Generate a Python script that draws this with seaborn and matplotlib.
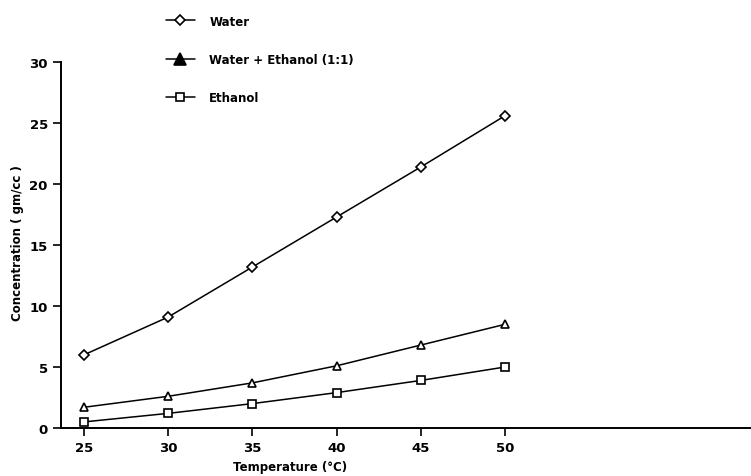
import matplotlib
matplotlib.use("Agg")
import matplotlib.pyplot as plt
import seaborn as sns
import pandas as pd

temperature = [25, 30, 35, 40, 45, 50]
water = [6.0, 9.1, 13.2, 17.3, 21.4, 25.6]
water_ethanol = [1.7, 2.6, 3.7, 5.1, 6.8, 8.5]
ethanol = [0.5, 1.2, 2.0, 2.9, 3.9, 5.0]
series_names = ["Water", "Water + Ethanol (1:1)", "Ethanol"]
y_ticks = [0, 5, 10, 15, 20, 25, 30]

sns.set_theme(style="ticks")
plt.rcParams["font.family"] = ["DejaVu Sans"]
plt.rcParams["text.color"] = "black"

df = pd.DataFrame({
    "Temperature": temperature * 3,
    "Concentration": water + water_ethanol + ethanol,
    "Series": [series_names[0]] * 6 + [series_names[1]] * 6 + [series_names[2]] * 6,
})

fig = plt.figure(figsize=(7.51, 4.77), dpi=100)
ax = fig.add_axes([61 / 751, 48 / 477, 690 / 751, 366 / 477])

markers = {series_names[0]: "D", series_names[1]: "^", series_names[2]: "s"}
sizes = {series_names[0]: 5, series_names[1]: 6, series_names[2]: 6}
for name in series_names:
    sub = df[df["Series"] == name]
    sns.lineplot(data=sub, x="Temperature", y="Concentration", ax=ax,
                 color="black", linewidth=1.1, marker=markers[name],
                 markersize=sizes[name], markerfacecolor="white",
                 markeredgecolor="black", markeredgewidth=1.2, label=name)

ax.set_xlim(23.63, 64.6)
ax.set_ylim(0, 30)
ax.set_xticks(temperature)
ax.set_yticks(y_ticks)
for s in ["top", "right"]:
    ax.spines[s].set_visible(False)
for s in ["left", "bottom"]:
    ax.spines[s].set_linewidth(1.4)
    ax.spines[s].set_color("black")
ax.tick_params(axis="both", length=6, width=1.2, colors="black", labelsize=9.5)
for lab in ax.get_xticklabels() + ax.get_yticklabels():
    lab.set_fontweight("bold")

ax.set_xlabel("Temperature (°C)", fontsize=8.5, fontweight="bold", color="black")
ax.set_ylabel("Concentration ( gm/cc )", fontsize=8.5, fontweight="bold", color="black")
ax.xaxis.set_label_coords((290 - 61) / 690, (429 - 468) / 366)
ax.yaxis.set_label_coords((17 - 61) / 690, (429 - 243) / 366)
ax.xaxis.label.set_va("center")
ax.yaxis.label.set_va("center")

leg = ax.legend(loc="upper left", bbox_to_anchor=(155 / 751, 1 - 5 / 477),
                bbox_transform=fig.transFigure, frameon=False,
                labelspacing=2.15, handlelength=2.5,
                handletextpad=1.2, prop={"weight": "bold", "size": 8.5})
for t in leg.get_texts():
    t.set_color("black")
handles = leg.legend_handles
handles[1].set_markerfacecolor("black")
handles[1].set_markersize(9)

fig.savefig("out.png", dpi=100, facecolor="white")
